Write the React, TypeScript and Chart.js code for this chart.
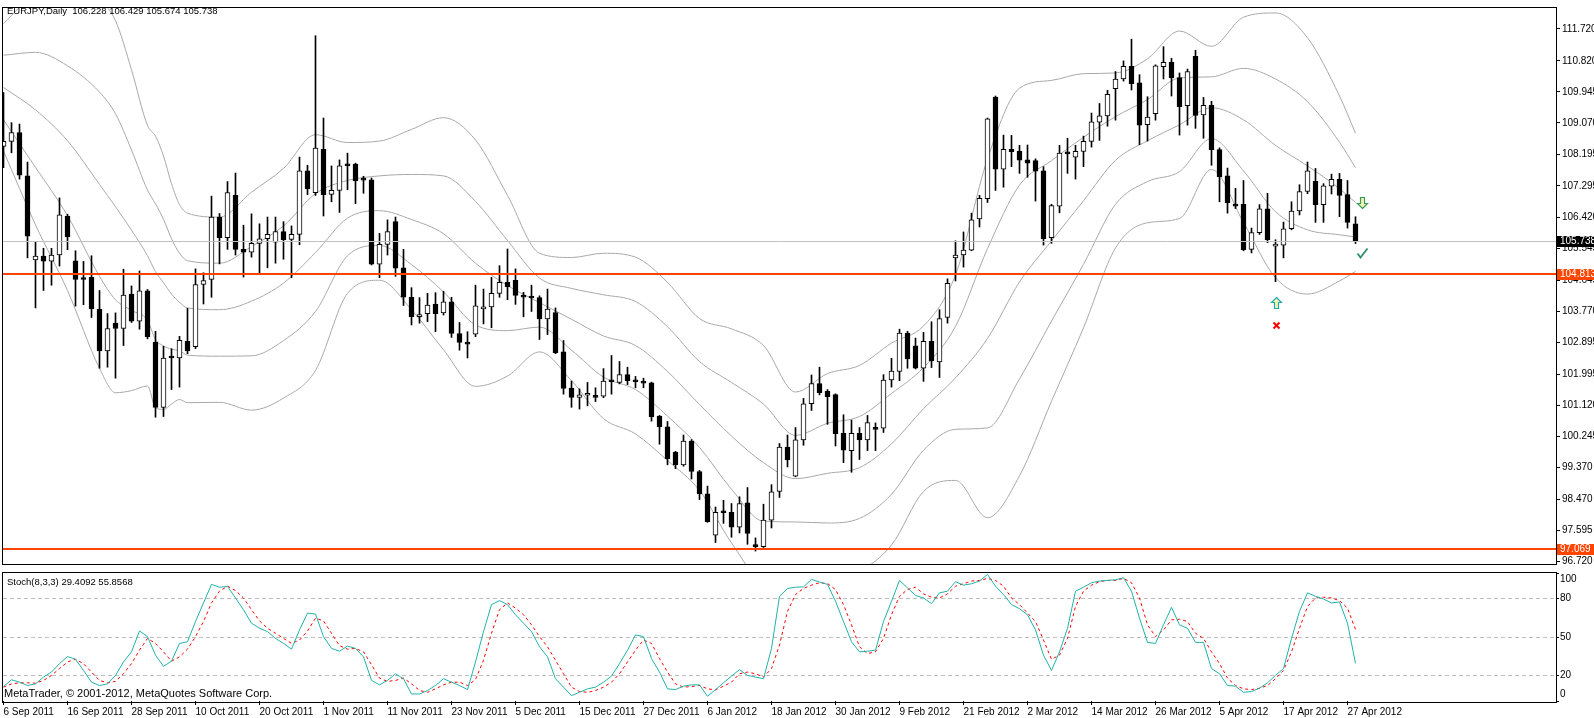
import React, { useEffect, useRef } from "react";
import { Chart, registerables } from "chart.js";

Chart.register(...registerables);

// ---------- texts ----------
const symbolTitle = "EURJPY,Daily  106.228 106.429 105.674 105.738";
const stochTitle = "Stoch(8,3,3) 29.4092 55.8568";
const copyrightText = "MetaTrader, \u00A9 2001-2012, MetaQuotes Software Corp.";

// ---------- axis labels ----------
const dateLabels = [
  "6 Sep 2011", "16 Sep 2011", "28 Sep 2011", "10 Oct 2011", "20 Oct 2011", "1 Nov 2011",
  "11 Nov 2011", "23 Nov 2011", "5 Dec 2011", "15 Dec 2011", "27 Dec 2011", "6 Jan 2012",
  "18 Jan 2012", "30 Jan 2012", "9 Feb 2012", "21 Feb 2012", "2 Mar 2012", "14 Mar 2012",
  "26 Mar 2012", "5 Apr 2012", "17 Apr 2012", "27 Apr 2012",
];
const barsPerDateLabel = 8;
const priceTicks = [
  111.72, 110.82, 109.945, 109.07, 108.195, 107.295, 106.42, 105.545, 104.645,
  103.77, 102.895, 101.995, 101.12, 100.245, 99.37, 98.47, 97.595, 96.72,
];
const stochTicks = [100, 80, 50, 20, 0];
const stochGridLevels = [80, 50, 20];

// ---------- daily candles (bar index 0 = 6 Sep 2011) ----------
const opens = [108.41,108.55,108.80,107.58,105.21,105.32,105.18,105.35,106.45,105.19,
104.70,104.72,103.83,102.65,103.43,103.28,104.25,103.49,104.34,102.90,
101.06,102.49,102.45,102.92,102.77,104.52,104.66,106.42,105.84,107.03,
105.51,105.43,105.68,105.81,105.71,106.01,105.79,105.93,107.72,107.11,
108.33,107.06,107.17,107.87,107.91,107.47,107.47,105.09,105.65,106.29,
104.99,104.16,103.61,103.70,103.97,103.72,104.03,103.14,102.89,103.12,
103.83,103.89,104.27,104.58,104.64,104.22,104.16,104.15,103.55,103.73,
102.62,101.60,101.34,101.40,101.38,101.37,101.79,101.76,101.98,101.79,
101.80,101.75,100.81,100.51,99.79,99.44,100.11,99.25,98.62,97.46,
98.12,98.10,97.68,98.37,97.19,97.13,97.88,98.69,99.94,99.12,
100.14,101.16,101.73,101.51,101.42,100.33,99.84,100.33,100.14,100.47,
100.47,101.83,102.07,103.15,102.79,102.16,102.92,102.34,103.59,105.27,
105.35,105.49,106.37,106.94,109.80,107.77,108.33,108.28,108.03,108.01,
107.72,105.84,106.73,108.21,108.11,108.27,108.55,109.09,109.27,110.04,
110.31,110.67,110.20,109.02,109.33,110.66,110.78,110.35,109.56,110.95,
109.30,109.57,108.32,107.58,106.76,106.78,105.51,105.98,106.65,105.60,
105.63,106.09,106.59,107.14,107.43,106.77,107.29,107.48,107.05,106.228];

const highs = [109.93,109.08,109.04,107.97,105.72,105.54,105.54,106.96,106.50,105.47,
105.17,105.33,104.35,103.70,103.72,104.95,104.48,104.90,104.38,103.20,
102.78,102.71,103.06,103.85,104.96,104.85,107.01,106.52,107.42,107.66,
106.19,106.51,106.23,106.42,106.42,106.29,106.17,108.11,107.88,111.53,
109.21,107.86,108.03,108.22,107.94,107.57,107.52,105.96,106.34,106.42,
105.51,104.43,104.15,104.27,104.29,104.33,104.16,103.45,103.19,104.50,
104.39,104.72,105.05,105.52,104.96,104.30,104.50,104.20,104.39,103.86,
102.94,101.80,101.58,101.76,101.61,102.15,102.52,102.35,102.19,101.93,
101.88,101.77,100.83,100.66,99.82,100.28,100.15,99.28,98.84,98.25,
98.44,98.35,98.54,98.80,97.38,98.33,98.88,100.04,100.28,100.49,
101.31,101.97,102.19,101.56,101.44,100.85,100.70,100.49,100.83,100.62,
101.98,102.44,103.26,103.20,103.01,103.17,103.47,103.81,104.68,105.75,
106.00,106.53,107.03,109.21,109.83,108.73,108.72,108.44,108.45,108.06,
107.84,106.78,108.44,108.64,108.44,108.70,109.35,109.62,109.99,110.52,
110.82,111.43,110.43,109.81,110.71,111.22,110.89,110.48,110.59,111.12,
109.79,109.68,108.37,107.80,107.23,107.45,106.11,106.77,107.09,105.78,
106.28,106.85,107.33,107.97,107.79,107.36,107.63,107.65,107.45,106.429];

const lows = [107.81,108.23,107.49,105.27,103.86,104.35,104.50,105.04,105.50,103.91,
103.95,103.59,102.16,102.19,101.88,102.80,103.45,103.26,102.99,100.78,
100.80,101.56,101.63,102.57,102.71,103.97,104.16,105.10,105.51,105.35,
104.73,105.29,104.84,104.99,105.12,105.23,104.71,105.64,107.05,107.03,
106.45,106.85,106.55,107.19,106.80,107.09,105.07,104.71,105.35,104.75,
103.93,103.38,103.43,103.47,103.19,103.66,103.03,102.67,102.45,103.05,
103.41,103.30,104.16,104.09,103.96,103.61,103.76,102.97,103.11,102.57,
101.43,101.06,101.01,101.10,101.22,101.33,101.43,101.72,101.70,101.61,
101.61,100.67,100.02,99.44,99.33,99.40,99.04,98.46,97.82,97.25,
97.79,97.40,97.52,97.20,97.01,97.11,97.66,98.52,99.38,99.10,
99.99,100.97,101.41,100.58,99.97,99.50,99.23,99.59,99.84,99.84,
100.35,101.63,101.81,102.16,102.14,101.79,102.18,101.90,103.43,104.62,
105.01,105.47,106.14,106.83,107.17,107.26,107.84,107.65,107.54,106.87,
105.63,105.68,106.54,107.65,107.49,107.84,108.39,108.58,108.98,109.15,
110.25,110.00,108.46,108.56,109.15,110.31,109.83,108.73,109.01,108.92,
108.64,107.88,106.85,106.53,106.66,105.47,105.41,105.93,105.70,104.60,
105.27,106.06,106.48,107.08,106.27,106.27,107.07,106.43,106.11,105.674];

const closes = [108.55,108.80,107.60,105.88,105.32,105.18,105.35,106.48,105.86,104.66,
104.66,103.83,102.65,103.28,103.28,104.22,103.49,104.34,103.05,101.06,
102.45,102.45,102.95,102.65,104.52,104.63,106.42,105.84,107.11,105.51,
105.43,105.68,105.81,105.93,106.01,105.78,105.93,107.72,107.21,108.36,
107.05,107.17,107.86,107.86,107.44,107.46,105.09,105.65,106.01,104.98,
104.16,103.61,103.67,103.94,103.70,104.03,103.14,102.89,102.84,103.92,
103.89,104.27,104.58,104.46,104.21,104.16,104.14,103.55,103.83,102.60,
101.59,101.34,101.41,101.41,101.34,101.80,101.78,101.98,101.81,101.78,
101.74,100.79,100.51,99.61,99.44,100.11,99.25,98.62,97.84,98.10,
98.09,97.68,98.35,97.51,97.13,97.88,98.68,99.94,99.58,100.14,
101.16,101.73,101.47,101.36,100.32,99.85,100.33,100.14,100.63,100.44,
101.83,102.08,103.15,102.42,102.16,102.92,102.37,103.56,104.55,105.35,
105.49,106.34,106.95,109.19,107.77,108.33,108.26,108.02,107.94,107.71,
105.81,106.74,108.22,108.20,108.27,108.55,109.10,109.27,109.88,110.31,
110.67,110.18,109.01,109.24,110.68,110.78,110.34,109.53,110.52,109.28,
109.57,108.32,107.55,106.82,106.73,105.50,105.98,106.65,105.78,105.65,
106.09,106.59,107.14,107.72,106.77,107.30,107.48,107.03,106.27,105.738];

// ---------- band lines, read at these bar indices ----------
const bandBars = [0,4,8,12,14,16,18,19,20,21,22,23,27,31,35,39,43,47,51,55,59,63,67,71,75,79,83,87,91,95,99,103,107,111,115,119,123,127,131,135,139,143,147,151,155,159,163,167,169];
const bandUpper2 = [111.87,112.68,112.78,112.53,111.95,110.57,109.00,108.70,108.14,107.36,106.77,106.53,106.42,107.12,107.79,108.74,108.52,108.56,108.89,109.22,108.59,107.03,105.40,105.28,105.40,105.29,104.58,103.56,103.27,102.80,101.49,102.01,102.24,102.87,103.35,104.79,108.06,110.05,110.27,110.46,110.48,110.88,111.66,111.23,112.05,112.17,111.47,109.83,108.78];
const bandUpper1 = [110.98,111.06,110.68,109.94,109.33,108.31,107.18,106.79,106.36,105.81,105.40,105.19,105.12,105.59,106.17,107.08,107.45,107.58,107.62,107.58,106.86,105.76,104.70,104.41,104.23,104.04,103.33,102.35,101.76,101.15,100.27,100.61,100.80,101.45,102.18,103.34,105.53,107.32,108.01,108.67,109.25,109.73,110.34,110.37,110.61,110.31,109.67,108.53,107.81];
const bandMiddle = [110.07,109.44,108.57,107.34,106.71,106.05,105.33,104.88,104.57,104.25,104.02,103.86,103.81,104.05,104.56,105.42,106.39,106.60,106.35,105.95,105.12,104.49,104.01,103.54,103.07,102.80,102.07,101.14,100.25,99.50,99.05,99.20,99.36,100.03,101.02,101.89,103.00,104.59,105.75,106.88,108.02,108.57,109.02,109.50,109.16,108.44,107.86,107.22,106.83];
const bandLower1 = [109.16,107.82,106.46,104.75,104.09,103.79,103.51,102.97,102.79,102.70,102.65,102.53,102.50,102.51,102.94,103.76,105.33,105.62,105.08,104.31,103.38,103.22,103.32,102.67,101.91,101.56,100.81,99.93,98.75,97.85,97.83,97.80,97.93,98.61,99.85,100.44,100.48,101.86,103.49,105.09,106.78,107.42,107.70,108.63,107.72,106.57,106.06,105.92,105.86];
const bandLower2 = [108.28,106.20,104.35,102.16,101.47,101.53,101.66,101.05,101.00,101.15,101.28,101.19,101.20,100.98,101.32,102.10,104.27,104.64,103.81,102.68,101.65,101.94,102.62,101.81,100.74,100.31,99.56,98.72,97.24,96.20,96.61,96.40,96.49,97.18,98.69,99.00,97.95,99.13,101.23,103.30,105.55,106.26,106.38,107.76,106.27,104.71,104.25,104.62,104.89];

// ---------- stochastic (8,3,3) ----------
const stochMain = [11.3,16.6,14.7,12.1,13.4,18.7,22.6,29.2,34.7,32.6,
23.9,14.7,12.1,13.4,20.0,30.5,38.4,54.7,50.3,35.8,
27.1,31.1,45.0,46.3,62.1,76.6,91.1,88.9,89.5,80.5,
71.3,60.8,56.8,54.2,48.9,45.0,40.5,55.5,68.7,67.9,
50.3,41.1,38.9,42.9,41.1,34.5,16.1,12.6,16.1,21.3,
17.4,5.5,5.5,8.2,12.1,17.4,14.7,12.1,8.9,30.5,
54.2,75.3,78.4,75.3,67.4,60.8,54.2,42.4,34.5,17.4,
10.8,4.2,6.8,9.5,10.8,14.7,19.5,29.2,39.7,51.6,
50.3,33.2,22.6,9.5,8.9,11.6,12.6,12.6,3.7,8.9,
14.2,19.5,24.5,20.0,18.7,17.4,41.1,81.8,87.9,88.9,
89.2,95.0,92.9,91.1,77.9,62.1,46.3,38.4,38.9,39.7,
62.1,77.9,94.2,88.4,82.4,80.5,76.1,84.5,85.8,93.2,
90.5,91.6,93.7,98.9,89.7,83.2,75.3,72.1,67.4,55.5,
35.8,23.9,38.4,56.8,85.8,88.9,92.4,93.7,94.2,94.7,
96.3,85.8,64.7,45.8,45.0,59.5,73.2,59.5,56.8,45.8,
45.8,25.3,21.3,12.1,11.6,6.8,7.4,10.0,14.2,20.0,
25.3,48.9,70.0,84.5,81.8,79.7,76.6,77.4,60.8,29.41];

const stochSignal = [10.8,13.4,14.2,14.2,13.9,16.1,20.0,25.3,30.5,32.6,
29.2,22.6,16.1,14.2,15.3,21.3,29.2,39.7,48.9,45.0,
38.4,31.1,34.5,40.5,50.3,62.1,76.6,85.8,89.7,86.3,
80.5,71.3,62.6,56.8,52.9,48.9,45.0,47.6,54.7,64.7,
62.6,52.9,43.2,40.5,41.1,38.4,28.4,17.9,15.3,16.1,
17.9,13.4,8.2,6.8,9.5,12.6,14.7,14.7,12.1,16.8,
31.8,52.9,71.3,76.6,72.6,67.4,59.5,50.3,42.4,31.8,
21.3,10.8,7.4,6.8,8.2,10.8,14.7,21.3,30.5,39.7,
47.6,45.0,33.2,22.6,13.4,10.8,11.3,12.1,9.5,8.7,
11.6,14.7,21.3,22.6,21.3,18.7,25.3,43.7,70.0,83.2,
87.9,90.5,92.4,91.8,87.1,75.3,59.5,42.4,37.1,38.4,
48.9,67.4,81.8,87.1,88.9,83.7,81.1,80.5,83.7,89.7,
91.6,93.7,94.2,95.8,94.2,89.7,80.5,75.3,68.7,62.1,
47.6,32.6,35.8,48.9,73.9,85.8,90.5,93.2,94.2,94.2,
95.8,92.4,80.5,59.5,50.3,55.5,63.4,63.9,62.1,52.9,
48.9,38.4,29.2,17.9,12.1,9.5,8.9,10.0,12.1,17.4,
23.9,38.4,56.8,73.9,80.5,81.1,80.5,78.4,72.6,55.86];

// ---------- horizontal levels and price tags ----------
const levelValues = [105.738, 104.813, 97.069];
const levelKinds = ["bid", "line", "line"];

// ---------- trade markers ----------
const markerBars = [169.8, 169.8, 159, 159];
const markerPrices = [106.85, 105.41, 104.01, 103.37];
const markerKinds = ["sellArrow", "check", "buyArrow", "cross"];

// ---------- layout constants ----------
const WIDTH = 1594;
const MAIN_HEIGHT = 572;
const STOCH_TOP = 570;
const STOCH_HEIGHT = 148;
const AXIS_W = 38;
const X_MIN = -0.0625;
const X_MAX = 194.0625;
const Y_MIN = 96.645;
const Y_MAX = 112.31;
const FONT = '"Liberation Sans", Arial, sans-serif';
const ORANGE = "#FF4500";
const BAND_COLOR = "#A8A8A8";

function drawArrow(ctx: CanvasRenderingContext2D, cx: number, cy: number, up: boolean, stroke: string) {
  const s = up ? 1 : -1;
  const top = cy - 6 * s;
  ctx.beginPath();
  ctx.moveTo(cx, top);
  ctx.lineTo(cx + 5, top + 5 * s);
  ctx.lineTo(cx + 2, top + 5 * s);
  ctx.lineTo(cx + 2, cy + 5 * s);
  ctx.lineTo(cx - 2, cy + 5 * s);
  ctx.lineTo(cx - 2, top + 5 * s);
  ctx.lineTo(cx - 5, top + 5 * s);
  ctx.closePath();
  ctx.fillStyle = "#F4F4B0";
  ctx.fill();
  ctx.lineWidth = 1.2;
  ctx.strokeStyle = stroke;
  ctx.stroke();
}

const mainDecor = {
  id: "mainDecor",
  afterDatasetsDraw(chart: any) {
    const { ctx, chartArea } = chart;
    const { left, right, top, bottom } = chartArea;
    const y = chart.scales.y;
    ctx.save();
    ctx.beginPath();
    ctx.rect(left, top, right - left, bottom - top);
    ctx.clip();
    levelValues.forEach((v, k) => {
      const py = Math.round(y.getPixelForValue(v));
      ctx.beginPath();
      if (levelKinds[k] === "bid") {
        ctx.strokeStyle = "#C0C0C0";
        ctx.lineWidth = 1;
        ctx.moveTo(left, py + 0.5);
        ctx.lineTo(right, py + 0.5);
      } else {
        ctx.strokeStyle = ORANGE;
        ctx.lineWidth = 2;
        ctx.moveTo(left, py);
        ctx.lineTo(right, py);
      }
      ctx.stroke();
    });
    ctx.restore();
  },
  afterDraw(chart: any) {
    const { ctx, chartArea } = chart;
    const { left, right, top, bottom } = chartArea;
    const x = chart.scales.x;
    const y = chart.scales.y;
    ctx.save();
    // frame
    ctx.strokeStyle = "#000";
    ctx.lineWidth = 1;
    ctx.strokeRect(left - 0.5, top - 0.5, right - left + 1, bottom - top + 1);
    // title
    ctx.fillStyle = "#000";
    ctx.font = `9.5px ${FONT}`;
    ctx.textBaseline = "middle";
    ctx.textAlign = "left";
    ctx.fillText(symbolTitle, 7, 11);
    // price tags
    levelValues.forEach((v, k) => {
      const py = Math.round(y.getPixelForValue(v));
      ctx.fillStyle = levelKinds[k] === "bid" ? "#000" : ORANGE;
      ctx.fillRect(right + 1, py - 5, WIDTH - right - 1, 11);
      ctx.fillStyle = "#FFF";
      ctx.font = `10px ${FONT}`;
      ctx.fillText(v.toFixed(3), right + 4, py + 0.5);
    });
    // markers
    markerKinds.forEach((kind, k) => {
      const cx = Math.round(x.getPixelForValue(markerBars[k])) + 0.5;
      const cy = Math.round(y.getPixelForValue(markerPrices[k])) + 0.5;
      if (kind === "sellArrow") drawArrow(ctx, cx, cy, false, "#3A9A5A");
      else if (kind === "buyArrow") drawArrow(ctx, cx, cy, true, "#1FA8B0");
      else if (kind === "check") {
        ctx.beginPath();
        ctx.strokeStyle = "#2E8B6E";
        ctx.lineWidth = 1.8;
        ctx.moveTo(cx - 5, cy);
        ctx.lineTo(cx - 2, cy + 4);
        ctx.lineTo(cx + 5, cy - 5);
        ctx.stroke();
      } else if (kind === "cross") {
        ctx.beginPath();
        ctx.strokeStyle = "#FF0000";
        ctx.lineWidth = 2;
        ctx.moveTo(cx - 3, cy - 3);
        ctx.lineTo(cx + 3, cy + 3);
        ctx.moveTo(cx + 3, cy - 3);
        ctx.lineTo(cx - 3, cy + 3);
        ctx.stroke();
      }
    });
    ctx.restore();
  },
};

const stochDecor = {
  id: "stochDecor",
  afterDraw(chart: any) {
    const { ctx, chartArea } = chart;
    const { left, right, top, bottom } = chartArea;
    const y = chart.scales.y;
    ctx.save();
    ctx.strokeStyle = "#000";
    ctx.lineWidth = 1;
    ctx.strokeRect(left - 0.5, top - 0.5, right - left + 1, bottom - top + 2);
    ctx.fillStyle = "#000";
    ctx.textBaseline = "middle";
    ctx.textAlign = "left";
    ctx.font = `9.5px ${FONT}`;
    ctx.fillText(stochTitle, 7, 12.5);
    ctx.font = `11px ${FONT}`;
    ctx.fillText(copyrightText, 4, 124);
    ctx.font = `10px ${FONT}`;
    stochTicks.forEach((v) => {
      let py = y.getPixelForValue(v);
      py = Math.max(top + 6, Math.min(bottom - 7, py));
      ctx.fillText(String(v), right + 4, py);
    });
    ctx.restore();
  },
};

export default function App() {
  const mainRef = useRef<HTMLCanvasElement | null>(null);
  const stochRef = useRef<HTMLCanvasElement | null>(null);

  useEffect(() => {
    document.body.style.margin = "0";
    if (!mainRef.current || !stochRef.current) return;

    const idx = opens.map((_, i) => i);
    const bodyColors = idx.map((i) => (closes[i] >= opens[i] ? "#FFFFFF" : "#000000"));
    const bandDataset = (vals: number[]) => ({
      type: "line" as const,
      data: bandBars.map((b, k) => ({ x: b, y: vals[k] })),
      borderColor: BAND_COLOR,
      borderWidth: 1,
      pointRadius: 0,
      cubicInterpolationMode: "monotone" as const,
      order: 5,
    });

    const main = new Chart(mainRef.current, {
      type: "bar",
      data: {
        datasets: [
          {
            type: "bar",
            data: idx.map((i) => ({ x: i, y: [opens[i], closes[i]] })) as any,
            backgroundColor: bodyColors,
            borderColor: "#000",
            borderWidth: 1,
            borderSkipped: false,
            barThickness: 5,
            minBarLength: 2,
            grouped: false,
            order: 1,
          } as any,
          {
            type: "bar",
            data: idx.map((i) => ({ x: i, y: [lows[i], highs[i]] })) as any,
            backgroundColor: "#000",
            borderWidth: 0,
            barThickness: 1,
            minBarLength: 1,
            grouped: false,
            order: 2,
          } as any,
          bandDataset(bandUpper2) as any,
          bandDataset(bandUpper1) as any,
          bandDataset(bandMiddle) as any,
          bandDataset(bandLower1) as any,
          bandDataset(bandLower2) as any,
        ],
      },
      options: {
        animation: false,
        responsive: false,
        devicePixelRatio: 1,
        events: [],
        layout: { padding: { left: 3, top: 2, bottom: 2, right: 0 } },
        plugins: { legend: { display: false }, tooltip: { enabled: false } },
        scales: {
          x: { type: "linear", min: X_MIN, max: X_MAX, display: false, offset: false },
          y: {
            type: "linear",
            position: "right",
            min: Y_MIN,
            max: Y_MAX,
            afterFit: (s: any) => { s.width = AXIS_W; },
            afterBuildTicks: (s: any) => { s.ticks = priceTicks.map((v) => ({ value: v })); },
            ticks: {
              autoSkip: false,
              color: "#000",
              padding: 2,
              font: { family: FONT, size: 10 },
              callback: (v: any) => Number(v).toFixed(3),
            },
            grid: { drawOnChartArea: false, drawTicks: true, tickLength: 4, color: "#000" },
            border: { display: false },
          },
        },
      } as any,
      plugins: [mainDecor],
    });

    const stoch = new Chart(stochRef.current, {
      type: "line",
      data: {
        datasets: [
          {
            data: idx.map((i) => ({ x: i, y: stochMain[i] })),
            borderColor: "#20B2AA",
            borderWidth: 1,
            pointRadius: 0,
            tension: 0,
            order: 1,
          },
          {
            data: idx.map((i) => ({ x: i, y: stochSignal[i] })),
            borderColor: "#FF0000",
            borderWidth: 1,
            borderDash: [3, 3],
            pointRadius: 0,
            tension: 0,
            order: 2,
          },
        ],
      },
      options: {
        animation: false,
        responsive: false,
        devicePixelRatio: 1,
        events: [],
        layout: { padding: { left: 3, top: 3, bottom: 0, right: 0 } },
        plugins: { legend: { display: false }, tooltip: { enabled: false } },
        scales: {
          x: {
            type: "linear",
            min: X_MIN,
            max: X_MAX,
            offset: false,
            afterFit: (s: any) => { s.height = 17; },
            afterBuildTicks: (s: any) => {
              s.ticks = dateLabels.map((_, k) => ({ value: k * barsPerDateLabel }));
            },
            ticks: {
              autoSkip: false,
              maxRotation: 0,
              minRotation: 0,
              align: "start",
              color: "#000",
              padding: 1,
              font: { family: FONT, size: 10 },
              callback: (v: any) => dateLabels[Math.round(Number(v) / barsPerDateLabel)] ?? "",
            },
            grid: { drawOnChartArea: false, drawTicks: true, tickLength: 4, color: "#000" },
            border: { display: false },
          },
          y: {
            type: "linear",
            position: "right",
            min: 0,
            max: 100,
            afterFit: (s: any) => { s.width = AXIS_W; },
            afterBuildTicks: (s: any) => { s.ticks = stochTicks.map((v) => ({ value: v })); },
            ticks: { display: false },
            grid: {
              drawOnChartArea: true,
              drawTicks: true,
              tickLength: 3,
              tickColor: "#000",
              color: (c: any) => (stochGridLevels.includes(c.tick?.value) ? "#BDBDBD" : "rgba(0,0,0,0)"),
            },
            border: { display: false, dash: [4, 3] },
          },
        },
      } as any,
      plugins: [stochDecor],
    });

    return () => {
      main.destroy();
      stoch.destroy();
    };
  }, []);

  return (
    <div style={{ position: "relative", width: WIDTH, height: 718, background: "#fff", overflow: "hidden" }}>
      <canvas
        ref={mainRef}
        width={WIDTH}
        height={MAIN_HEIGHT}
        style={{ position: "absolute", left: 0, top: 0, width: WIDTH, height: MAIN_HEIGHT }}
      />
      <canvas
        ref={stochRef}
        width={WIDTH}
        height={STOCH_HEIGHT}
        style={{ position: "absolute", left: 0, top: STOCH_TOP, width: WIDTH, height: STOCH_HEIGHT }}
      />
    </div>
  );
}
